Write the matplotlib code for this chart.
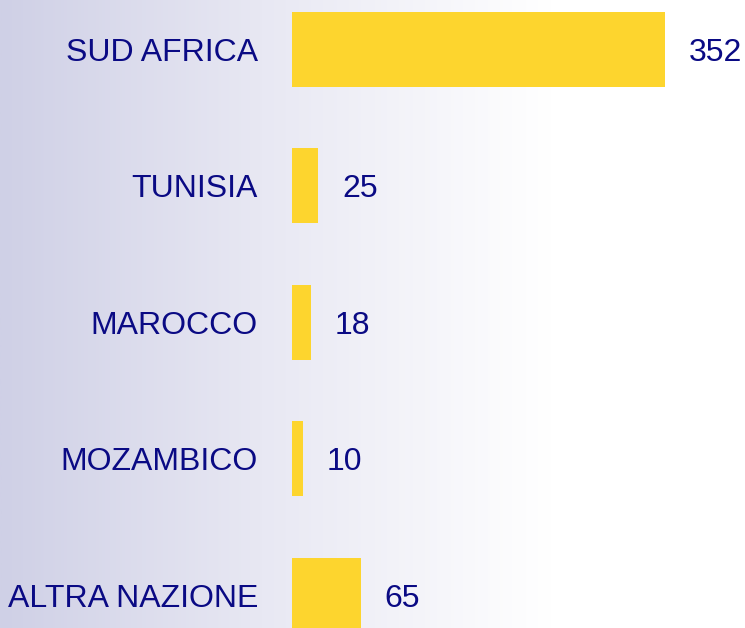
import matplotlib
matplotlib.use("Agg")
import matplotlib.pyplot as plt
from matplotlib.colors import LinearSegmentedColormap
import numpy as np

# -------------------------------------------------------------
# Data
# -------------------------------------------------------------
countries = ["SUD AFRICA", "TUNISIA", "MAROCCO", "MOZAMBICO", "ALTRA NAZIONE"]
counts = [352, 25, 18, 10, 65]

TEXT_COLOR = "#0a0a84"
BAR_COLOR = "#fdd52e"

W, H = 745, 628
fig = plt.figure(figsize=(W / 100, H / 100), dpi=100)

# -------------------------------------------------------------
# Background gradient (lavender -> white)
# -------------------------------------------------------------
bg = fig.add_axes([0, 0, 1, 1], zorder=0)
cmap = LinearSegmentedColormap.from_list(
    "bg", [(0.0, "#cfd0e6"), (0.35, "#e8e8f3"), (0.74, "#ffffff"), (1.0, "#ffffff")]
)
grad = np.linspace(0, 1, 512).reshape(1, -1)
bg.imshow(grad, aspect="auto", cmap=cmap, extent=[0, 1, 0, 1])
bg.axis("off")

# -------------------------------------------------------------
# Bars
# -------------------------------------------------------------
left_px = 292
ax = fig.add_axes([left_px / W, 0, 1 - left_px / W, 1], zorder=1)
ax.patch.set_alpha(0)

y = np.arange(len(countries))
ax.barh(y, counts, height=0.55, color=BAR_COLOR)

ax.set_xlim(0, (W - left_px) / 1.0597)
ax.set_ylim(4.241, -0.363)

ax.set_yticks(y)
ax.set_yticklabels(countries, fontsize=23, color=TEXT_COLOR,
                   family="Liberation Sans")
ax.tick_params(axis="y", length=0, pad=24.5)
ax.set_xticks([])
for s in ax.spines.values():
    s.set_visible(False)

for yi, v in zip(y, counts):
    ax.annotate(str(v), (v, yi), xytext=(17, 0), textcoords="offset points",
                va="center_baseline", ha="left", fontsize=23, color=TEXT_COLOR,
                family="Liberation Sans")

fig.savefig("out.png", dpi=100)
